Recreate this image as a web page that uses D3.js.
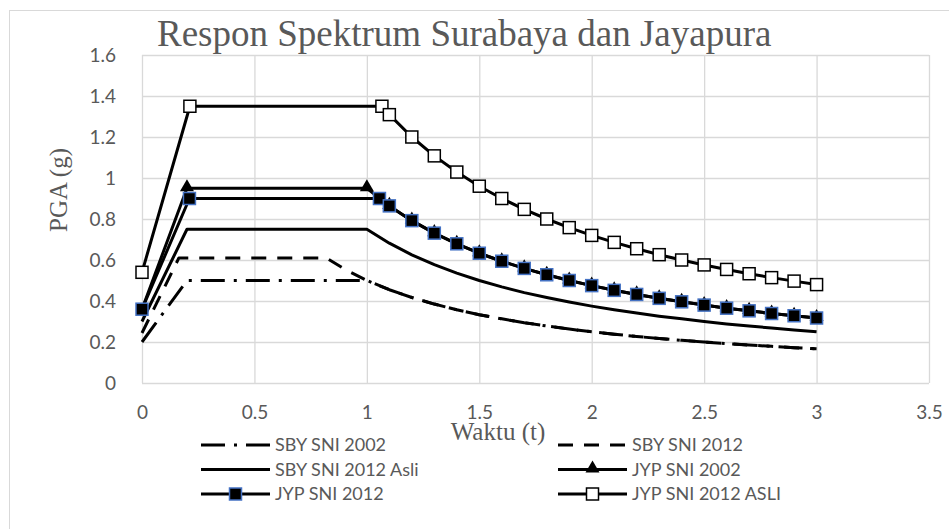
<!DOCTYPE html>
<html>
<head>
<meta charset="utf-8">
<script src="https://cdn.jsdelivr.net/npm/d3@7"></script>
<style>
  body { margin: 0; background: #fff; }
  svg { display: block; }
</style>
</head>
<body>
<svg id="chart" width="949" height="529"></svg>
<script>
// spectrum values
var sby2002_t = [0, 0.2, 1.0, 1.1, 1.2, 1.3, 1.4, 1.5, 1.6, 1.7, 1.8, 1.9, 2.0, 2.1, 2.2, 2.3, 2.4, 2.5, 2.6, 2.7, 2.8, 2.9, 3.0];
var sby2002_sa = [0.2, 0.5, 0.5, 0.455, 0.417, 0.385, 0.357, 0.333, 0.313, 0.294, 0.278, 0.263, 0.25, 0.238, 0.227, 0.217, 0.208, 0.2, 0.192, 0.185, 0.179, 0.172, 0.167];

var sby2012_t = [0, 0.164, 0.82, 0.9, 1.0, 1.1, 1.2, 1.3, 1.4, 1.5, 1.6, 1.7, 1.8, 1.9, 2.0, 2.1, 2.2, 2.3, 2.4, 2.5, 2.6, 2.7, 2.8, 2.9, 3.0];
var sby2012_sa = [0.244, 0.61, 0.61, 0.556, 0.5, 0.455, 0.417, 0.385, 0.357, 0.333, 0.313, 0.294, 0.278, 0.263, 0.25, 0.238, 0.227, 0.217, 0.208, 0.2, 0.192, 0.185, 0.179, 0.172, 0.167];

var sbyAsli_t = [0, 0.2, 1.0, 1.1, 1.2, 1.3, 1.4, 1.5, 1.6, 1.7, 1.8, 1.9, 2.0, 2.1, 2.2, 2.3, 2.4, 2.5, 2.6, 2.7, 2.8, 2.9, 3.0];
var sbyAsli_sa = [0.3, 0.75, 0.75, 0.682, 0.625, 0.577, 0.536, 0.5, 0.469, 0.441, 0.417, 0.395, 0.375, 0.357, 0.341, 0.326, 0.313, 0.3, 0.288, 0.278, 0.268, 0.259, 0.25];

var jyp2002_t = [0, 0.2, 1.0, 1.1, 1.2, 1.3, 1.4, 1.5, 1.6, 1.7, 1.8, 1.9, 2.0, 2.1, 2.2, 2.3, 2.4, 2.5, 2.6, 2.7, 2.8, 2.9, 3.0];
var jyp2002_sa = [0.36, 0.95, 0.95, 0.864, 0.792, 0.731, 0.679, 0.633, 0.594, 0.559, 0.528, 0.5, 0.475, 0.452, 0.432, 0.413, 0.396, 0.38, 0.365, 0.352, 0.339, 0.328, 0.317];

var jyp2012_t = [0, 0.211, 1.056, 1.1, 1.2, 1.3, 1.4, 1.5, 1.6, 1.7, 1.8, 1.9, 2.0, 2.1, 2.2, 2.3, 2.4, 2.5, 2.6, 2.7, 2.8, 2.9, 3.0];
var jyp2012_sa = [0.36, 0.9, 0.9, 0.864, 0.792, 0.731, 0.679, 0.633, 0.594, 0.559, 0.528, 0.5, 0.475, 0.452, 0.432, 0.413, 0.396, 0.38, 0.365, 0.352, 0.339, 0.328, 0.317];

var jypAsli_t = [0, 0.213, 1.067, 1.1, 1.2, 1.3, 1.4, 1.5, 1.6, 1.7, 1.8, 1.9, 2.0, 2.1, 2.2, 2.3, 2.4, 2.5, 2.6, 2.7, 2.8, 2.9, 3.0];
var jypAsli_sa = [0.54, 1.35, 1.35, 1.309, 1.2, 1.108, 1.029, 0.96, 0.9, 0.847, 0.8, 0.758, 0.72, 0.686, 0.655, 0.626, 0.6, 0.576, 0.554, 0.533, 0.514, 0.497, 0.48];

var seriesNames = ["SBY SNI 2002", "SBY SNI 2012", "SBY SNI 2012 Asli", "JYP SNI 2002", "JYP SNI 2012", "JYP SNI 2012 ASLI"];
var xTicks = [0, 0.5, 1, 1.5, 2, 2.5, 3, 3.5];
var yTicks = [0, 0.2, 0.4, 0.6, 0.8, 1, 1.2, 1.4, 1.6];

var series = [
  {name: seriesNames[0], t: sby2002_t, sa: sby2002_sa, dash: "24,9,3,9", marker: null},
  {name: seriesNames[1], t: sby2012_t, sa: sby2012_sa, dash: "15,11", marker: null},
  {name: seriesNames[2], t: sbyAsli_t, sa: sbyAsli_sa, dash: null, marker: null},
  {name: seriesNames[3], t: jyp2002_t, sa: jyp2002_sa, dash: null, marker: "triangle"},
  {name: seriesNames[4], t: jyp2012_t, sa: jyp2012_sa, dash: null, marker: "filled"},
  {name: seriesNames[5], t: jypAsli_t, sa: jypAsli_sa, dash: null, marker: "open"}
];

var plot = {left: 142, right: 929, top: 55, bottom: 383};
var tickFont = "Lato, 'Open Sans', sans-serif";
var serif = "'Liberation Serif', 'Times New Roman', serif";
var grey = "#595959";

var svg = d3.select("#chart");

// chart frame (only left and top edges fall inside the picture)
svg.append("rect")
  .attr("x", 9.5).attr("y", 10.5)
  .attr("width", 960).attr("height", 540)
  .attr("fill", "#fff")
  .attr("stroke", "#d9d9d9");

var x = d3.scaleLinear().domain([0, 3.5]).range([plot.left, plot.right]);
var y = d3.scaleLinear().domain([0, 1.6]).range([plot.bottom, plot.top]);

// gridlines
svg.append("g")
  .attr("transform", "translate(0," + plot.bottom + ")")
  .call(d3.axisBottom(x).tickValues(xTicks).tickSize(-(plot.bottom - plot.top)).tickFormat(""))
  .call(function(g) { g.select(".domain").remove(); })
  .selectAll("line").attr("stroke", "#d9d9d9").attr("stroke-width", 1.3);

svg.append("g")
  .attr("transform", "translate(" + plot.left + ",0)")
  .call(d3.axisLeft(y).tickValues(yTicks).tickSize(-(plot.right - plot.left)).tickFormat(""))
  .call(function(g) { g.select(".domain").remove(); })
  .selectAll("line").attr("stroke", "#d9d9d9").attr("stroke-width", 1.3);

// tick labels
svg.append("g")
  .attr("transform", "translate(0," + (plot.bottom + 19) + ")")
  .call(d3.axisBottom(x).tickValues(xTicks).tickSize(0).tickFormat(d3.format("")))
  .call(function(g) { g.select(".domain").remove(); })
  .selectAll("text")
    .attr("fill", grey)
    .style("font-family", tickFont)
    .style("font-size", "19px");

svg.append("g")
  .attr("transform", "translate(" + (plot.left - 23) + ",0)")
  .call(d3.axisLeft(y).tickValues(yTicks).tickSize(0).tickFormat(d3.format("")))
  .call(function(g) { g.select(".domain").remove(); })
  .selectAll("text")
    .attr("fill", grey)
    .style("font-family", tickFont)
    .style("font-size", "19px");

// lines
var line = d3.line()
  .x(function(d) { return x(d[0]); })
  .y(function(d) { return y(d[1]); });

function pairs(s) {
  return s.t.map(function(t, i) { return [t, s.sa[i]]; });
}

var triangle = d3.symbol().type(d3.symbolTriangle).size(85);

function drawMarker(g, kind, px, py) {
  if (kind === "triangle") {
    g.append("path")
      .attr("d", triangle())
      .attr("transform", "translate(" + px + "," + (py - 1) + ")")
      .attr("fill", "#000");
  } else if (kind === "filled") {
    g.append("rect")
      .attr("x", px - 6).attr("y", py - 6)
      .attr("width", 12).attr("height", 12)
      .attr("fill", "#000")
      .attr("stroke", "#4472c4").attr("stroke-width", 1.5);
  } else if (kind === "open") {
    g.append("rect")
      .attr("x", px - 6).attr("y", py - 6)
      .attr("width", 12).attr("height", 12)
      .attr("fill", "#fff")
      .attr("stroke", "#000").attr("stroke-width", 1.5);
  }
}

series.forEach(function(s) {
  var g = svg.append("g").attr("class", "series");
  g.append("path")
    .datum(pairs(s))
    .attr("d", line)
    .attr("fill", "none")
    .attr("stroke", "#000")
    .attr("stroke-width", 3)
    .attr("stroke-linejoin", "round")
    .attr("stroke-dasharray", s.dash);
  if (s.marker) {
    pairs(s).forEach(function(d, i) {
      if (s.marker === "triangle" && i === 0) return;
      drawMarker(g, s.marker, x(d[0]), y(d[1]));
    });
  }
});

// titles
svg.append("text")
  .attr("x", 157).attr("y", 46)
  .attr("fill", grey)
  .style("font-family", serif)
  .style("font-size", "37px")
  .text("Respon Spektrum Surabaya dan Jayapura");

svg.append("text")
  .attr("transform", "translate(67,190) rotate(-90)")
  .attr("text-anchor", "middle")
  .attr("fill", grey)
  .style("font-family", serif)
  .style("font-size", "25px")
  .text("PGA (g)");

svg.append("text")
  .attr("x", 498).attr("y", 440)
  .attr("text-anchor", "middle")
  .attr("fill", grey)
  .style("font-family", serif)
  .style("font-size", "25px")
  .text("Waktu (t)");

// legend
var legendCols = [201, 558];
var legendRows = [445, 469.5, 494];

series.forEach(function(s, i) {
  var lx = legendCols[i % 2];
  var ly = legendRows[Math.floor(i / 2)];
  var g = svg.append("g").attr("class", "legend-item");
  g.append("line")
    .attr("x1", lx).attr("x2", lx + 69)
    .attr("y1", ly).attr("y2", ly)
    .attr("stroke", "#000")
    .attr("stroke-width", 3)
    .attr("stroke-dasharray", s.dash);
  if (s.marker) drawMarker(g, s.marker, lx + 34.5, ly);
  g.append("text")
    .attr("x", lx + 74).attr("y", ly)
    .attr("dy", "0.35em")
    .attr("fill", grey)
    .style("font-family", tickFont)
    .style("font-size", "18px")
    .text(s.name);
});
</script>
</body>
</html>
